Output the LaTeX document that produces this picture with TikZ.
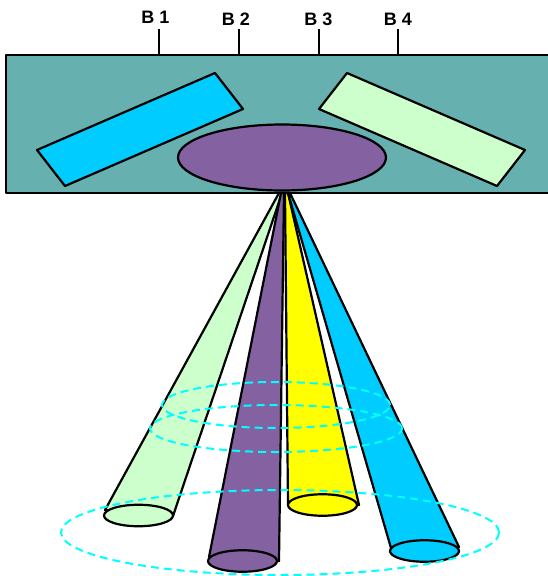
\documentclass[tikz,border=0pt]{standalone}
\usepackage{fontspec}
\setmainfont{Liberation Sans}
\usepackage{tikz}
\usetikzlibrary{shapes.geometric}

\definecolor{housingteal}{HTML}{66B0B0}
\definecolor{beamblue}{HTML}{00CCFF}
\definecolor{beamgreen}{HTML}{CCFFCC}
\definecolor{beampurple}{HTML}{8461A0}
\definecolor{beamyellow}{HTML}{FFFF00}
\definecolor{ringcyan}{HTML}{00FFFF}

\begin{document}
\begin{tikzpicture}[
    x=1pt, y=-1pt,
    line join=round,
    wire/.style={draw=black, line width=2.2pt},
    housing/.style={rectangle, wire, fill=housingteal, inner sep=0pt, outer sep=0pt, minimum width=546pt, minimum height=138pt},
    lens/.style={ellipse, wire, fill=beampurple, inner sep=0pt, outer sep=0pt, minimum width=208pt, minimum height=66pt},
    lid/.style={ellipse, wire, inner sep=0pt, outer sep=0pt, minimum width=69pt, minimum height=21.5pt},
    ring/.style={ellipse, draw=ringcyan, line width=2pt, dash pattern=on 8pt off 5pt, inner sep=0pt, outer sep=0pt},
    beamlabel/.style={font=\fontsize{18}{18}\selectfont\bfseries, inner sep=0pt}
]
\useasboundingbox (0,0) rectangle (548,576);

% Housing
\node[housing] (housing) at (279,124) {};
\draw[wire, fill=beamblue] (37,150) -- (215,73) -- (243,109) -- (65,186) -- cycle;
\draw[wire, fill=beamgreen] (347,73) -- (525,150) -- (497,186) -- (319,109) -- cycle;
\node[lens] (lens) at (282,157.5) {};

% Labels and pins
\node[beamlabel] (b1) at (155.5,17.5) {B 1};
\node[beamlabel] (b2) at (236,19) {B 2};
\node[beamlabel] (b3) at (318.5,19) {B 3};
\node[beamlabel] (b4) at (398,19) {B 4};
\coordinate (pin1) at (159,29);
\coordinate (pin2) at (239,29);
\coordinate (pin3) at (319,29);
\coordinate (pin4) at (398,29);
\draw[wire] (pin1) -- (pin1 |- housing.north);
\draw[wire] (pin2) -- (pin2 |- housing.north);
\draw[wire] (pin3) -- (pin3 |- housing.north);
\draw[wire] (pin4) -- (pin4 |- housing.north);

% Beams
\draw[wire, fill=beamgreen] (279,193) -- (105,510) -- (173,516) -- (282,193) -- cycle;
\node[lid, fill=beamgreen] (lidgreen) at (138.5,515.5) {};
\draw[wire, fill=beampurple] (281,193) -- (209,557) -- (279,561) -- (284,193) -- cycle;
\node[lid, fill=beampurple] (lidpurple) at (242.5,561) {};
\draw[wire, fill=beamyellow] (285,193) -- (288,505) -- (359,505) -- (288,193) -- cycle;
\node[lid, fill=beamyellow] (lidyellow) at (322.5,505) {};
\draw[wire, fill=beamblue] (288,193) -- (391,548) -- (459,547) -- (290,193) -- cycle;
\node[lid, fill=beamblue] (lidblue) at (424.5,551) {};

% Rings
\node[ring, minimum width=228pt, minimum height=46pt] (ringupper) at (276,405) {};
\node[ring, minimum width=252pt, minimum height=47pt] (ringmiddle) at (276,428.5) {};
\node[ring, minimum width=438pt, minimum height=85pt] (ringlower) at (280,532.5) {};

\end{tikzpicture}
\end{document}
